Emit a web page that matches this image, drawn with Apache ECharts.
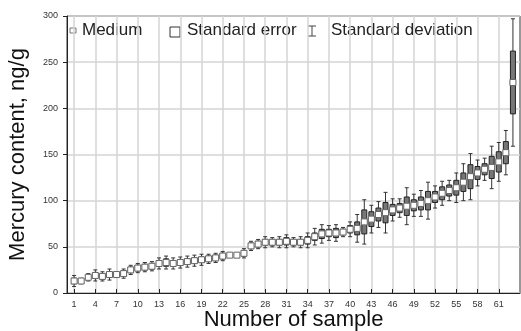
<!DOCTYPE html>
<html>
<head>
<meta charset="utf-8">
<script src="https://cdn.jsdelivr.net/npm/echarts@6/dist/echarts.min.js"></script>
<style>
  html, body { margin: 0; padding: 0; background: #fff; }
  #chart { width: 521px; height: 331px; }
</style>
</head>
<body>
<div id="chart"></div>
<script>
// sample numbers 1..63
const samples = [
  1, 2, 3, 4, 5, 6, 7, 8, 9, 10, 11, 12, 13, 14, 15, 16, 17, 18, 19, 20, 21,
  22, 23, 24, 25, 26, 27, 28, 29, 30, 31, 32, 33, 34, 35, 36, 37, 38, 39, 40,
  41, 42, 43, 44, 45, 46, 47, 48, 49, 50, 51, 52, 53, 54, 55, 56, 57, 58, 59,
  60, 61, 62, 63
]

// median mercury content, ng/g
const medians = [
  13, 13, 17, 19, 18, 20, 20, 21, 25, 27, 28, 29, 32, 33, 32, 33, 34, 35, 36,
  37, 38, 40, 41, 41, 43, 51, 53, 55, 55, 55, 56, 55, 55, 57, 61, 64, 65, 65,
  66, 69, 70, 77, 80, 85, 87, 90, 92, 94, 95, 97, 100, 104, 108, 111, 114,
  120, 126, 130, 134, 136, 142, 152, 228
]

// standard error (half height of the box)
const stdErr = [
  3, 2, 2, 3, 3, 3, 2, 3, 3, 3, 3, 3, 3, 4, 3, 3, 3, 3, 3, 3, 3, 3, 0, 0, 3,
  3, 3, 3, 3, 3, 4, 3, 3, 4, 4, 5, 4, 5, 3, 4, 7, 13, 8, 7, 11, 6, 5, 10, 6,
  7, 10, 6, 7, 6, 8, 10, 13, 7, 6, 12, 11, 12, 34
]

// standard deviation (half length of the whisker)
const stdDev = [
  6, 3, 4, 6, 5, 6, 3, 5, 5, 5, 5, 5, 6, 7, 6, 6, 6, 6, 6, 5, 5, 5, 0, 0, 5,
  5, 5, 6, 5, 6, 7, 5, 6, 8, 9, 10, 8, 9, 5, 8, 15, 24, 15, 14, 22, 12, 10,
  20, 12, 14, 20, 12, 13, 11, 16, 20, 25, 14, 12, 23, 21, 24, 69
]

const xTickLabels = [1, 4, 7, 10, 13, 16, 19, 22, 25, 28, 31, 34, 37, 40, 43, 46, 49, 52, 55, 58, 61]
const yTicks = [0, 50, 100, 150, 200, 250, 300]

const chart = echarts.init(document.getElementById('chart'))

const data = samples.map((s, i) => [s, medians[i], stdErr[i], stdDev[i]])

const FONT = '"Liberation Sans", Arial, sans-serif'

function renderBox(params, api) {
  const x = api.value(0)
  const med = api.value(1)
  const se = api.value(2)
  const sd = api.value(3)
  const pMed = api.coord([x, med])
  const cx = pMed[0]
  const children = []

  if (sd > 0) {
    const top = api.coord([x, med + sd])[1]
    const bot = api.coord([x, med - sd])[1]
    children.push(
      { type: 'line', shape: { x1: cx, y1: top, x2: cx, y2: bot }, style: { stroke: '#333', lineWidth: 1 } },
      { type: 'line', shape: { x1: cx - 2, y1: top, x2: cx + 2, y2: top }, style: { stroke: '#333', lineWidth: 1 } },
      { type: 'line', shape: { x1: cx - 2, y1: bot, x2: cx + 2, y2: bot }, style: { stroke: '#333', lineWidth: 1 } }
    )
  }
  if (se > 0) {
    const top = api.coord([x, med + se])[1]
    const bot = api.coord([x, med - se])[1]
    children.push({
      type: 'rect',
      shape: { x: cx - 2.5, y: top, width: 5, height: bot - top },
      style: { fill: '#777', stroke: '#222', lineWidth: 1 }
    })
  }
  // median marker
  children.push({
    type: 'rect',
    shape: { x: cx - 3, y: pMed[1] - 3, width: 6, height: 6 },
    style: { fill: '#fff', stroke: '#666', lineWidth: 1 }
  })
  return { type: 'group', children }
}

const legendFont = '17px ' + FONT

const option = {
  animation: false,
  backgroundColor: '#fff',
  grid: {
    left: 67,
    right: 1,
    top: 16,
    bottom: 38,
    outerBoundsMode: 'none',
    containLabel: false,
    show: true,
    borderColor: '#333',
    borderWidth: 1
  },
  xAxis: {
    type: 'value',
    min: 0,
    max: 64,
    name: 'Number of sample',
    nameLocation: 'middle',
    nameGap: 16,
    nameMoveOverlap: false,
    nameTextStyle: { fontFamily: FONT, fontSize: 22, color: '#111', verticalAlign: 'top' },
    axisLine: { lineStyle: { color: '#222', width: 1 } },
    axisTick: { inside: true, length: 4, customValues: xTickLabels, lineStyle: { color: '#222' } },
    axisLabel: { customValues: xTickLabels, margin: 7, fontFamily: FONT, fontSize: 9, color: '#333' },
    splitLine: { show: true, lineStyle: { color: '#d4d4d4', width: 1.5 } }
  },
  yAxis: {
    type: 'value',
    min: 0,
    max: 300,
    interval: 50,
    name: 'Mercury content, ng/g',
    nameLocation: 'middle',
    nameGap: 38,
    nameMoveOverlap: false,
    nameTextStyle: { fontFamily: FONT, fontSize: 22, color: '#111' },
    axisLine: { show: true, lineStyle: { color: '#222', width: 1 } },
    axisTick: { show: true, length: 4, lineStyle: { color: '#222' } },
    axisLabel: { margin: 9, fontFamily: FONT, fontSize: 9, color: '#333', customValues: yTicks },
    splitLine: { show: true, lineStyle: { color: '#d4d4d4', width: 1.5 } }
  },
  graphic: [
    // legend: Medium
    { type: 'rect', shape: { x: 70, y: 28, width: 6, height: 5 }, style: { fill: '#fff', stroke: '#777', lineWidth: 1 } },
    { type: 'text', x: 82, y: 30, style: { text: 'Medium', font: legendFont, fill: '#222', verticalAlign: 'middle' } },
    // legend: Standard error
    { type: 'rect', shape: { x: 170, y: 27, width: 10, height: 10 }, style: { fill: '#fff', stroke: '#333', lineWidth: 1 } },
    { type: 'text', x: 187, y: 30, style: { text: 'Standard error', font: legendFont, fill: '#222', verticalAlign: 'middle' } },
    // legend: Standard deviation
    { type: 'line', shape: { x1: 312, y1: 26, x2: 312, y2: 36 }, style: { stroke: '#444', lineWidth: 1 } },
    { type: 'line', shape: { x1: 308, y1: 26, x2: 316, y2: 26 }, style: { stroke: '#444', lineWidth: 1 } },
    { type: 'line', shape: { x1: 308, y1: 36, x2: 316, y2: 36 }, style: { stroke: '#444', lineWidth: 1 } },
    { type: 'text', x: 331, y: 30, style: { text: 'Standard deviation', font: legendFont, fill: '#222', verticalAlign: 'middle' } }
  ],
  series: [
    {
      type: 'custom',
      name: 'Mercury',
      renderItem: renderBox,
      encode: { x: 0, y: 1 },
      data: data,
      clip: true
    }
  ]
}

chart.setOption(option)
</script>
</body>
</html>
